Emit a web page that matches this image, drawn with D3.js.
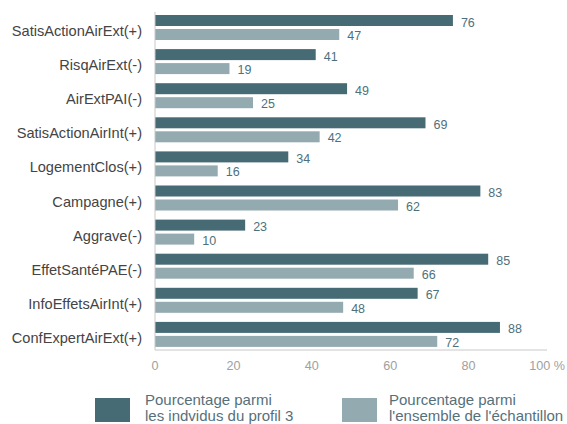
<!DOCTYPE html>
<html lang="fr">
<head>
<meta charset="utf-8">
<script src="https://d3js.org/d3.v7.min.js"></script>
<style>
  body { margin: 0; background: #fff; }
  svg { font-family: "Liberation Sans", Arial, sans-serif; }
</style>
</head>
<body>
<svg width="567" height="424"></svg>
<script>
var categories = ["SatisActionAirExt(+)", "RisqAirExt(-)", "AirExtPAI(-)", "SatisActionAirInt(+)",
  "LogementClos(+)", "Campagne(+)", "Aggrave(-)", "EffetSantéPAE(-)", "InfoEffetsAirInt(+)", "ConfExpertAirExt(+)"];
var profil3 = [76, 41, 49, 69, 34, 83, 23, 85, 67, 88];
var ensemble = [47, 19, 25, 42, 16, 62, 10, 66, 48, 72];
var ticks = [0, 20, 40, 60, 80, 100];
var legendLabels = [["Pourcentage parmi", "les indvidus du profil 3"], ["Pourcentage parmi", "l'ensemble de l'échantillon"]];

var dark = "#466b74", light = "#93aab0";

var svg = d3.select("svg");
var mLeft = 155, mRight = 547, mTop = 12, mBottom = 350;

var x = d3.scaleLinear().domain([0, 100]).range([mLeft, mRight]);
var y = d3.scaleBand().domain(categories).range([mTop, mTop + 34.1 * 10]);

var g = svg.append("g");

categories.forEach(function(c, i) {
  var y0 = y(c);
  g.append("rect").attr("x", x(0)).attr("y", y0 + 3).attr("width", x(profil3[i]) - x(0)).attr("height", 11).attr("fill", dark);
  g.append("rect").attr("x", x(0)).attr("y", y0 + 17).attr("width", x(ensemble[i]) - x(0)).attr("height", 11).attr("fill", light);
  g.append("text").attr("x", x(profil3[i]) + 8).attr("y", y0 + 14.5).attr("font-size", 12.5).attr("fill", "#4d717c").text(profil3[i]);
  g.append("text").attr("x", x(ensemble[i]) + 8).attr("y", y0 + 28).attr("font-size", 12.5).attr("fill", "#4d717c").text(ensemble[i]);
  g.append("text").attr("x", 142).attr("y", y0 + 24).attr("text-anchor", "end").attr("font-size", 14.6).attr("fill", "#444").text(c);
});

// axes
g.append("line").attr("x1", mLeft).attr("x2", mLeft).attr("y1", mTop).attr("y2", mBottom).attr("stroke", "#c8c8c8");
g.append("line").attr("x1", mLeft).attr("x2", mRight).attr("y1", mBottom).attr("y2", mBottom).attr("stroke", "#c8c8c8");

g.selectAll(".tick").data(ticks).enter().append("text")
  .attr("x", function(d) { return x(d); })
  .attr("y", 370)
  .attr("text-anchor", "middle")
  .attr("font-size", 12.6)
  .attr("fill", "#a0a0a0")
  .text(function(d) { return d === 100 ? "100 %" : d; });

// legend
var lg = [{x: 95, tx: 145, color: dark}, {x: 342, tx: 389, color: light}];
lg.forEach(function(l, i) {
  svg.append("rect").attr("x", l.x).attr("y", 398).attr("width", 35).attr("height", 24).attr("fill", l.color);
  svg.append("text").attr("x", l.tx).attr("y", 405).attr("font-size", 15).attr("fill", "#56707a").text(legendLabels[i][0]);
  svg.append("text").attr("x", l.tx).attr("y", 421).attr("font-size", 15).attr("fill", "#56707a").text(legendLabels[i][1]);
});
</script>
</body>
</html>
